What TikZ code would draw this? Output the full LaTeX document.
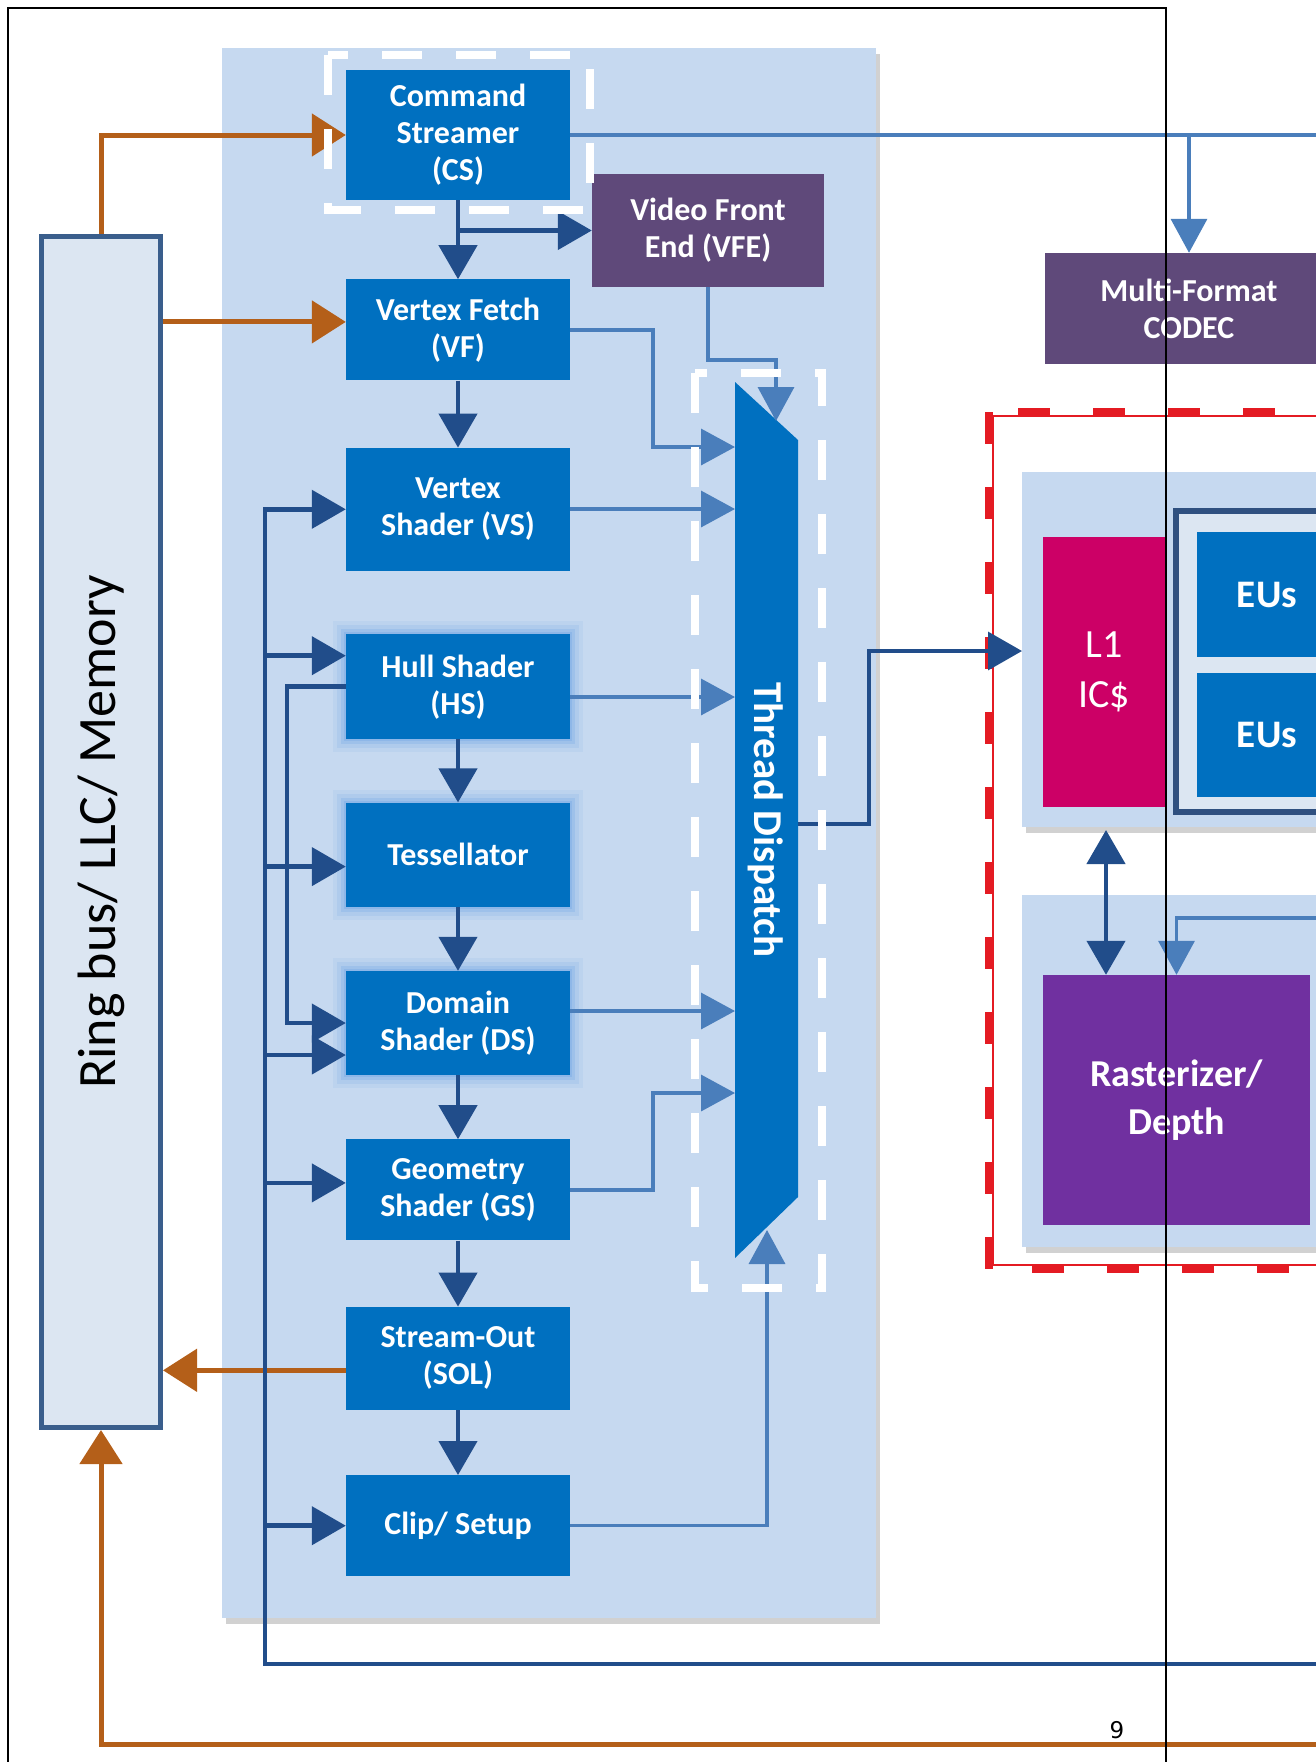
\documentclass[tikz,border=0pt]{standalone}
\usepackage{fontspec}
\setmainfont{Carlito}
\newfontfamily\pagenumfont{DejaVu Sans}
\usetikzlibrary{arrows.meta, positioning, calc, shadows}

\definecolor{stageblue}{RGB}{0,112,192}
\definecolor{panelblue}{RGB}{198,217,240}
\definecolor{ringfill}{RGB}{220,230,242}
\definecolor{ringedge}{RGB}{58,94,140}
\definecolor{euedge}{RGB}{47,80,128}
\definecolor{darkarrow}{RGB}{33,77,138}
\definecolor{lightarrow}{RGB}{74,126,187}
\definecolor{memorange}{RGB}{180,95,25}
\definecolor{mediapurple}{RGB}{95,73,122}
\definecolor{rastpurple}{RGB}{112,48,160}
\definecolor{cachepink}{RGB}{204,0,102}
\definecolor{slicered}{RGB}{228,27,35}
\definecolor{glowblue}{RGB}{120,170,230}

\newcommand{\stagefont}{\fontsize{32}{37}\selectfont\bfseries}
\newcommand{\bigfont}{\fontsize{38}{48}\selectfont\bfseries}

\begin{document}
\begin{tikzpicture}[
    x=1pt, y=-1pt,
    node distance=64pt,
    stage/.style={rectangle, fill=stageblue, text=white, font=\stagefont, align=center, inner sep=0pt, minimum width=224pt},
    glow/.style={preaction={draw=glowblue, line width=26pt, opacity=.12, rounded corners=12pt},
                 preaction={draw=glowblue, line width=18pt, opacity=.18, rounded corners=8pt},
                 preaction={draw=glowblue, line width=10pt, opacity=.3, rounded corners=4pt},
                 preaction={draw=glowblue, line width=4pt, opacity=.4}},
    media/.style={rectangle, fill=mediapurple, text=white, font=\stagefont, align=center, inner sep=0pt},
    panel/.style={fill=panelblue, drop shadow={shadow xshift=4pt, shadow yshift=-6pt, opacity=.3, fill=black!60}},
    darrow/.style={draw=darkarrow, line width=4.5pt, -{Triangle[length=34pt, width=38pt]}},
    dblarrow/.style={draw=darkarrow, line width=4.5pt, {Triangle[length=34pt, width=38pt]}-{Triangle[length=34pt, width=38pt]}},
    larrow/.style={draw=lightarrow, line width=3.5pt, -{Triangle[length=34pt, width=36pt]}},
    oarrow/.style={draw=memorange, line width=5pt, -{Triangle[length=34pt, width=42pt]}},
    wdash/.style={draw=white, line width=8pt, dash pattern=on 40pt off 34pt},
  ]
  \useasboundingbox (0,0) rectangle (1316,1762);
  \clip (0,0) rectangle (1316,1762);

  % panels
  \fill[panel] (222,48) rectangle (876,1618);

  % ring bus
  \node[draw=ringedge, line width=5pt, fill=ringfill, minimum width=119pt, minimum height=1191pt, inner sep=0pt] (ring) at (101,832)
    {\rotatebox{90}{\fontsize{54}{60}\selectfont Ring bus/ LLC/ Memory}};

  % pipeline
  \node[stage, minimum height=130pt] (cs) at (458,135) {Command\\Streamer\\(CS)};
  \node[stage, minimum height=101pt, below=79pt of cs] (vf) {Vertex Fetch\\(VF)};
  \node[stage, minimum height=123pt, below=67pt of vf] (vs) {Vertex\\Shader (VS)};
  \node[stage, glow, minimum height=105pt, below=63pt of vs] (hs) {Hull Shader\\(HS)};
  \node[stage, glow, minimum height=104pt, below=63pt of hs] (tess) {Tessellator};
  \node[stage, glow, minimum height=104pt, below=of tess] (ds) {Domain\\Shader (DS)};
  \node[stage, minimum height=101pt, below=of ds] (gs) {Geometry\\Shader (GS)};
  \node[stage, minimum height=103pt, below=66pt of gs] (sol) {Stream-Out\\(SOL)};
  \node[stage, minimum height=101pt, below=65pt of sol] (clip) {Clip/ Setup};

  \node[media, minimum width=232pt, minimum height=113pt] (vfe) at (708,230.5) {Video Front\\End (VFE)};
  \node[media, minimum width=288pt, minimum height=111pt] (codec) at (1189,308.5) {Multi-Format\\CODEC};

  % thread dispatch
  \fill[stageblue] (735,382) -- (798,440) -- (798,1197) -- (735,1258) -- cycle;
  \node[text=white, font=\fontsize{41}{46}\selectfont\bfseries] (td) at (766,820) {\rotatebox{-90}{Thread Dispatch}};
  \coordinate (td0) at (776,421);
  \coordinate (td1) at (735,447);
  \coordinate (td2) at (735,509);
  \coordinate (td3) at (735,697);
  \coordinate (td4) at (735,1011);
  \coordinate (td5) at (735,1093);
  \coordinate (td6) at (767,1230);
  \coordinate (tdout) at (798,824);
  \coordinate (jog) at (653,0);

  % slice
  \draw[slicered, line width=1.5pt] (993,416) rectangle (1400,1265);
  \draw[slicered, line width=8pt, dash pattern=on 32pt off 43pt] (989,412) rectangle (1400,1269);
  \fill[panel] (1022,472) rectangle (1400,827);
  \fill[panel] (1022,895) rectangle (1400,1247);
  \node[fill=cachepink, text=white, font=\fontsize{40}{50}\selectfont, align=center, minimum width=122pt, minimum height=270pt, inner sep=0pt] (l1) at (1104,672) {L1\\IC\$};
  \draw[euedge, line width=6pt, fill=ringfill] (1176,511) rectangle (1400,812);
  \node[stage, font=\fontsize{39}{46}\selectfont\bfseries, minimum width=140pt, minimum height=125pt] (eu1) at (1267,594.5) {EUs};
  \node[stage, font=\fontsize{39}{46}\selectfont\bfseries, minimum width=140pt, minimum height=124pt] (eu2) at (1267,735) {EUs};
  \node[fill=rastpurple, text=white, font=\bigfont, align=center, minimum width=267pt, minimum height=250pt, inner sep=0pt] (rast) at (1176.5,1100) {Rasterizer/\\Depth};
  \coordinate (l1in) at (1022,651);
  \coordinate (dbtop) at (1106,830);
  \coordinate (rastin) at (1330,918);

  % memory traffic
  \coordinate (vfo) at ([yshift=8pt]vf.west);
  \coordinate (solo) at ([yshift=-12pt]sol.west);
  \coordinate (ormem) at (1330,1744);
  \draw[oarrow] (ring.north) |- (cs.west);
  \draw[oarrow] (ring.east |- vfo) -- (vfo);
  \draw[oarrow] (solo) -- (solo -| ring.east);
  \draw[oarrow] (ormem) -| (ring.south);

  % pipeline flow
  \draw[darrow] (cs.south) -- (vf.north);
  \draw[darrow] (cs.south |- vfe.west) -- (vfe.west);
  \draw[darrow] (vf.south) -- (vs.north);
  \draw[darrow] (hs.south) -- (tess.north);
  \draw[darrow] (tess.south) -- (ds.north);
  \draw[darrow] (ds.south) -- (gs.north);
  \draw[darrow] (gs.south) -- (sol.north);
  \draw[darrow] (sol.south) -- (clip.north);

  % feedback bus
  \coordinate (fbin) at (1330,1664);
  \coordinate (fb) at (265,0);
  \coordinate (lp) at (287,0);
  \coordinate (hsa) at ([yshift=31pt]hs.west);
  \coordinate (tessa) at ([yshift=-12pt]tess.west);
  \coordinate (dsa) at ([yshift=-32pt]ds.west);
  \coordinate (gsa) at ([yshift=7pt]gs.west);
  \draw[darrow] (fbin) -| (fb |- vs.west) -- (vs.west);
  \foreach \t in {hsa, tessa, dsa, gsa, clip.west}
    \draw[darrow] (fb |- \t) -- (\t);
  \draw[darrow] (hs.west) -- (lp |- hs.west) -- (lp |- ds.west) -- (ds.west);

  % into thread dispatch
  \draw[larrow, -] (cs.east) -- (1330,135);
  \draw[larrow] (codec.north |- cs.east) -- (codec.north);
  \draw[larrow] (vfe.south) |- ([yshift=61pt]td0) -- (td0);
  \draw[larrow] (vf.east) -| (jog |- td1) -- (td1);
  \draw[larrow] (td2 -| vs.east) -- (td2);
  \draw[larrow] (td3 -| hs.east) -- (td3);
  \draw[larrow] (td4 -| ds.east) -- (td4);
  \draw[larrow] (gs.east) -| (jog |- td5) -- (td5);
  \draw[larrow] (clip.east) -| (td6);

  % to the slice
  \draw[darrow, line width=3.5pt] (tdout) -- ++(71,0) |- (l1in);
  \draw[dblarrow] (dbtop) -- (dbtop |- rast.north);
  \draw[larrow] (rastin) -| (rast.north);

  % dashed groups
  \draw[wdash] (328,55) rectangle (590,210);
  \draw[wdash] (695,373) rectangle (822,1288);

  % page
  \draw[line width=1.5pt] (8,1762) -- (8,8) -- (1166,8) -- (1166,1762);
  \node[font=\pagenumfont\fontsize{23}{28}\selectfont] (pnum) at (1117,1730) {9};
\end{tikzpicture}
\end{document}
